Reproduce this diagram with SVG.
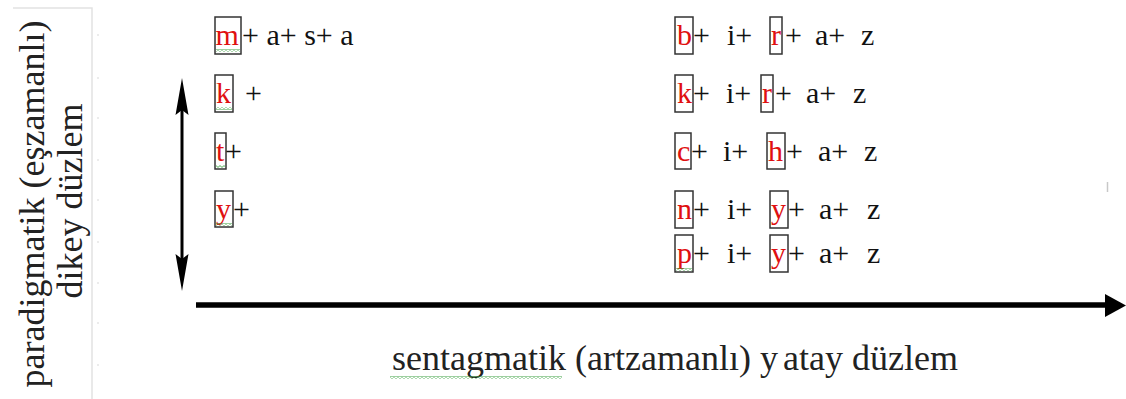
<svg xmlns="http://www.w3.org/2000/svg" width="1126" height="399" viewBox="0 0 1126 399">
  <style>
    .t { font-family: "Liberation Serif", "Times New Roman", serif; font-size: 30px; fill: #111; }
    .r { fill: #e01010; }
    .box { fill: none; stroke: #333; stroke-width: 1.5; }
    .lbl { font-family: "Liberation Serif", "Times New Roman", serif; font-size: 36px; fill: #222; text-anchor: middle; }
    .wave { fill: url(#wavy); }
    .page { stroke: #e2e2e2; stroke-width: 1.5; fill: none; }
    .tick { stroke: #e6e6e6; stroke-width: 1.5; }
  </style>
  <defs>
    <!-- spell-check style squiggle -->
    <pattern id="wavy" width="4" height="3" patternUnits="userSpaceOnUse">
      <path d="M0 0.6 L2 2.4 L4 0.6" fill="none" stroke="#3aa040" stroke-width="0.9"/>
    </pattern>
  </defs>

  <rect width="1126" height="399" fill="#fff"/>

  <!-- page margin lines -->
  <g id="page">
    <path class="page" d="M13 8 H92 V399"/>
    <g class="tick">
      <line x1="98" y1="34" x2="98" y2="36"/>
      <line x1="98" y1="77" x2="98" y2="79"/>
      <line x1="98" y1="117" x2="98" y2="119"/>
      <line x1="98" y1="159" x2="98" y2="161"/>
      <line x1="98" y1="199" x2="98" y2="201"/>
      <line x1="98" y1="241" x2="98" y2="243"/>
      <line x1="98" y1="282" x2="98" y2="284"/>
      <line x1="98" y1="322" x2="98" y2="324"/>
      <line x1="98" y1="364" x2="98" y2="366"/>
    </g>
    <line x1="1107.5" y1="182" x2="1107.5" y2="192" stroke="#c8c8c8" stroke-width="1.5"/>
  </g>

  <!-- axes -->
  <g id="connectors">
    <line x1="182" y1="100" x2="182" y2="270" stroke="#000" stroke-width="3"/>
    <polygon points="182,78 188.5,115 182,110 175.5,115" fill="#000"/>
    <polygon points="182,291 188.5,254 182,259 175.5,254" fill="#000"/>
    <line x1="196" y1="305" x2="1110" y2="305" stroke="#000" stroke-width="5.5"/>
    <polygon points="1105,294 1126,305.5 1105,317" fill="#000"/>
  </g>

  <!-- axis labels -->
  <g id="label-vertical">
    <text class="lbl" transform="translate(44 204) rotate(-90)">paradigmatik (eşzamanlı)</text>
    <text class="lbl" transform="translate(82 201) rotate(-90)">dikey düzlem</text>
  </g>
  <g id="label-horizontal">
    <text class="lbl" x="675" y="370">sentagmatik (artzamanlı) y<tspan dx="5">atay</tspan> düzlem</text>
    <rect class="wave" x="390" y="376" width="172" height="3"/>
  </g>

  <!-- left column: m + a + s + a -->
  <g id="word-masa">
    <rect class="box" x="215" y="17" width="26" height="37"/>
    <text class="t" x="215.5" y="45"><tspan class="r">m</tspan></text>
    <text class="t" x="242" y="45" xml:space="preserve">+ a+ s+ a</text>
    <rect class="wave" x="216" y="49" width="24" height="3"/>
  </g>
  <g id="word-k">
    <rect class="box" x="215" y="75" width="18" height="37"/>
    <text class="t" x="216" y="103"><tspan class="r">k</tspan></text>
    <text class="t" x="245" y="103">+</text>
    <rect class="wave" x="216" y="107" width="16" height="3"/>
  </g>
  <g id="word-t">
    <rect class="box" x="215" y="133" width="11" height="36"/>
    <text class="t" x="216" y="161"><tspan class="r">t</tspan></text>
    <text class="t" x="225" y="161">+</text>
    <rect class="wave" x="216" y="165" width="9" height="3"/>
  </g>
  <g id="word-y">
    <rect class="box" x="215" y="191" width="18" height="36"/>
    <text class="t" x="216" y="219"><tspan class="r">y</tspan></text>
    <text class="t" x="233" y="219">+</text>
    <rect class="wave" x="216" y="223" width="16" height="3"/>
  </g>

  <!-- right column: b i r a z -->
  <g id="word-biraz">
    <rect class="box" x="675" y="17" width="18" height="37"/>
    <text class="t" x="677" y="45"><tspan class="r">b</tspan></text>
    <text class="t" x="693" y="45">+</text>
    <text class="t" x="727" y="45">i+</text>
    <rect class="box" x="770" y="17" width="12" height="37"/>
    <text class="t" x="771" y="45"><tspan class="r">r</tspan></text>
    <text class="t" x="785" y="45">+</text>
    <text class="t" x="815" y="45">a+</text>
    <text class="t" x="861" y="45">z</text>
  </g>
  <g id="word-kiraz">
    <rect class="box" x="675" y="75" width="18" height="37"/>
    <text class="t" x="677" y="103"><tspan class="r">k</tspan></text>
    <text class="t" x="693" y="103">+</text>
    <text class="t" x="726" y="103">i+</text>
    <rect class="box" x="761" y="75" width="12" height="37"/>
    <text class="t" x="762" y="103"><tspan class="r">r</tspan></text>
    <text class="t" x="775" y="103">+</text>
    <text class="t" x="806" y="103">a+</text>
    <text class="t" x="853" y="103">z</text>
  </g>
  <g id="word-cihaz">
    <rect class="box" x="675" y="133" width="16" height="36"/>
    <text class="t" x="677" y="161"><tspan class="r">c</tspan></text>
    <text class="t" x="691" y="161">+</text>
    <text class="t" x="723" y="161">i+</text>
    <rect class="box" x="767" y="133" width="18" height="36"/>
    <text class="t" x="768" y="161"><tspan class="r">h</tspan></text>
    <text class="t" x="786" y="161">+</text>
    <text class="t" x="818" y="161">a+</text>
    <text class="t" x="864" y="161">z</text>
  </g>
  <g id="word-niyaz">
    <rect class="box" x="675" y="191" width="18" height="37"/>
    <text class="t" x="677" y="219"><tspan class="r">n</tspan></text>
    <text class="t" x="693" y="219">+</text>
    <text class="t" x="727" y="219">i+</text>
    <rect class="box" x="770" y="191" width="18" height="37"/>
    <text class="t" x="771" y="219"><tspan class="r">y</tspan></text>
    <text class="t" x="788" y="219">+</text>
    <text class="t" x="819" y="219">a+</text>
    <text class="t" x="867" y="219">z</text>
  </g>
  <g id="word-piyaz">
    <rect class="box" x="675" y="235" width="18" height="37"/>
    <text class="t" x="677" y="263"><tspan class="r">p</tspan></text>
    <text class="t" x="693" y="263">+</text>
    <text class="t" x="727" y="263">i+</text>
    <rect class="box" x="770" y="235" width="18" height="37"/>
    <text class="t" x="771" y="263"><tspan class="r">y</tspan></text>
    <text class="t" x="788" y="263">+</text>
    <text class="t" x="819" y="263">a+</text>
    <text class="t" x="867" y="263">z</text>
    <rect class="wave" x="676" y="268" width="16" height="3"/>
  </g>
</svg>
